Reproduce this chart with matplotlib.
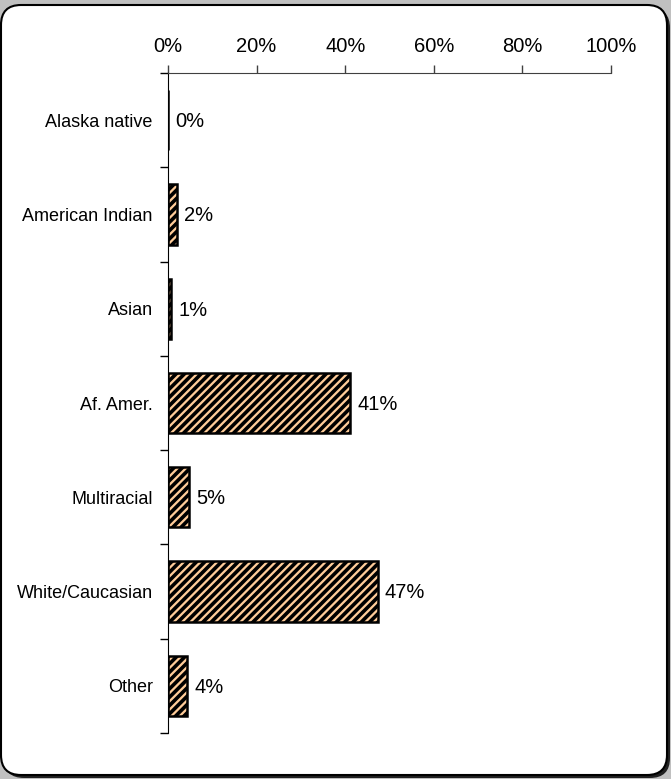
import matplotlib
matplotlib.use("Agg")
import matplotlib.pyplot as plt
from matplotlib.patches import FancyBboxPatch
from matplotlib.ticker import FixedLocator, PercentFormatter

plt.rcParams['font.family'] = ['Liberation Sans', 'DejaVu Sans']
plt.rcParams['hatch.linewidth'] = 2.6

# data
groups = ["Alaska native", "American Indian", "Asian", "Af. Amer.",
          "Multiracial", "White/Caucasian", "Other"]
shares = [0.0, 2.1, 0.7, 41.1, 4.7, 47.4, 4.3]
share_labels = ["0%", "2%", "1%", "41%", "5%", "47%", "4%"]
x_ticks = [0, 20, 40, 60, 80, 100]

fig = plt.figure(figsize=(6.71, 7.79), dpi=100)
fig.patch.set_facecolor("#c0c0c0")

# rounded frame with shadow (inches)
shadow = FancyBboxPatch((0.04, 0.01), 6.66, 7.70,
                        boxstyle="round,pad=0,rounding_size=0.2",
                        transform=fig.dpi_scale_trans, facecolor="#202020",
                        edgecolor="none", zorder=0)
frame = FancyBboxPatch((0.01, 0.04), 6.66, 7.70,
                       boxstyle="round,pad=0,rounding_size=0.2",
                       transform=fig.dpi_scale_trans, facecolor="white",
                       edgecolor="black", linewidth=1.5, zorder=1)
fig.patches.extend([shadow, frame])

ax = fig.add_axes([0.2504, 0.059, 0.6602, 0.8473])
ax.set_facecolor("none")
ax.set_zorder(2)

ypos = list(range(len(groups)))
ax.barh(ypos, shares, height=0.64, color="#ffcc99", edgecolor="black",
        linewidth=1.8, hatch="////")

for y, v, lab in zip(ypos, shares, share_labels):
    ax.annotate(lab, (v, y), xytext=(5, -1), textcoords="offset points",
                va="center", ha="left", fontsize=14.5)

ax.set_xlim(0, 100)
ax.set_ylim(len(groups) - 0.5, -0.5)
ax.xaxis.tick_top()
ax.set_xticks(x_ticks)
ax.xaxis.set_major_formatter(PercentFormatter(decimals=0))
ax.tick_params(axis="x", direction="out", length=6, width=1, pad=6,
               labelsize=14.5, colors="#404040", labelcolor="black")

ax.set_yticks(ypos)
ax.set_yticklabels(groups, fontsize=13)
ax.yaxis.set_minor_locator(FixedLocator([i - 0.5 for i in range(len(groups) + 1)]))
ax.tick_params(axis="y", which="major", length=0, pad=11)
ax.tick_params(axis="y", which="minor", direction="out", length=6, width=1)

for s in ["right", "bottom"]:
    ax.spines[s].set_visible(False)
ax.spines["top"].set_color("#404040")
ax.spines["left"].set_color("black")

fig.savefig("out.png", dpi=100, facecolor=fig.get_facecolor())
